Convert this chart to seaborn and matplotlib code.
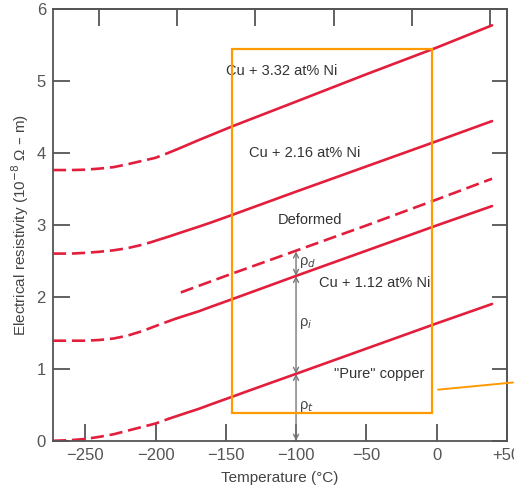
import numpy as np
import pandas as pd
import matplotlib
matplotlib.use("Agg")
import matplotlib.pyplot as plt
from matplotlib.patches import Rectangle
import seaborn as sns

# Resistivity curves (temperature in degC, rho in 1e-8 ohm m)
ni332_dash_t = [-273, -260, -250, -240, -230, -220, -210, -200, -192, -185]
ni332_dash_r = [3.76, 3.76, 3.765, 3.78, 3.80, 3.84, 3.885, 3.93, 3.99, 4.045]
ni332_solid_t = [-185, -170, -160, -145, -100, -50, 0, 39.5]
ni332_solid_r = [4.045, 4.17, 4.25, 4.37, 4.71, 5.09, 5.46, 5.77]

ni216_dash_t = [-273, -260, -250, -240, -230, -220, -210, -204.5]
ni216_dash_r = [2.60, 2.60, 2.61, 2.625, 2.645, 2.675, 2.72, 2.75]
ni216_solid_t = [-204.5, -190, -180, -169, -160, -145, -100, -50, 0, 39.5]
ni216_solid_r = [2.75, 2.84, 2.905, 2.975, 3.035, 3.14, 3.46, 3.81, 4.16, 4.44]

deformed_t = [-182, -150, -100, -50, 0, 39.5]
deformed_r = [2.06, 2.29, 2.64, 2.99, 3.35, 3.64]

ni112_dash_t = [-273, -260, -250, -240, -230, -220, -210, -204.5, -195, -185]
ni112_dash_r = [1.39, 1.39, 1.39, 1.40, 1.42, 1.46, 1.52, 1.56, 1.63, 1.70]
ni112_solid_t = [-185, -169, -160, -145, -100, -50, 0, 39.5]
ni112_solid_r = [1.70, 1.80, 1.865, 1.97, 2.29, 2.64, 2.99, 3.26]

pure_dash_t = [-273, -260, -250, -240, -230, -220, -210, -200, -190]
pure_dash_r = [0.0, 0.01, 0.025, 0.055, 0.09, 0.14, 0.19, 0.24, 0.31]
pure_solid_t = [-190, -180, -169, -160, -145, -133, -100, -50, 0, 39.5]
pure_solid_r = [0.31, 0.375, 0.445, 0.51, 0.615, 0.70, 0.93, 1.28, 1.63, 1.90]

# contributions at -100 degC
arrow_t = -100
rho_t_top = 0.93
rho_i_top = 2.29
rho_d_top = 2.63

curve_labels = ["Cu + 3.32 at% Ni", "Cu + 2.16 at% Ni", "Deformed",
                "Cu + 1.12 at% Ni", "\"Pure\" copper"]
label_t = [-110, -94, -90, -44, -41]
label_r = [5.14, 3.99, 3.07, 2.19, 0.93]

x_ticks = [-250, -200, -150, -100, -50, 0, 50]
x_ticklabels = ["\u2212250", "\u2212200", "\u2212150", "\u2212100", "\u221250", "0", "+50"]
y_ticks = [0, 1, 2, 3, 4, 5, 6]
top_ticks_f = [-400, -300, -200, -100, 0, 100]

# orange highlight overlay
box_t = [-145.4, -3.0]
box_r = [0.39, 5.44]
stub_t = [1.1, 54.4]
stub_r = [0.71, 0.81]

RED = "#e31e3c"
ORANGE = "#ff9a00"
GRAY = "#555555"

sns.set_style("ticks", {"xtick.direction": "in", "ytick.direction": "in"})
plt.rcParams["font.family"] = ["Liberation Sans", "DejaVu Sans"]

fig = plt.figure(figsize=(5.14, 4.86), dpi=100)
ax = fig.add_axes([0.103, 0.093, 0.883, 0.889])


def seg(t, r, dashed):
    df = pd.DataFrame({"T": t, "rho": r})
    sns.lineplot(data=df, x="T", y="rho", ax=ax, color=RED, lw=1.9,
                 estimator=None, sort=False,
                 linestyle=(0, (5, 2.2)) if dashed else "-")


seg(ni332_dash_t, ni332_dash_r, True)
seg(ni332_solid_t, ni332_solid_r, False)
seg(ni216_dash_t, ni216_dash_r, True)
seg(ni216_solid_t, ni216_solid_r, False)
seg(deformed_t, deformed_r, True)
seg(ni112_dash_t, ni112_dash_r, True)
seg(ni112_solid_t, ni112_solid_r, False)
seg(pure_dash_t, pure_dash_r, True)
seg(pure_solid_t, pure_solid_r, False)

# rho_t, rho_i, rho_d arrows
for lo, hi in [(0, rho_t_top), (rho_t_top, rho_i_top), (rho_i_top, rho_d_top)]:
    ax.annotate("", xy=(arrow_t, lo), xytext=(arrow_t, hi),
                arrowprops=dict(arrowstyle="<->", color="#777777", lw=1.0,
                                shrinkA=0, shrinkB=0, mutation_scale=9))
ax.text(arrow_t + 2, 2.47, "\u03c1$_{d}$", fontsize=10.5, color="#444444", va="center")
ax.text(arrow_t + 2, 1.63, "\u03c1$_{i}$", fontsize=10.5, color="#444444", va="center")
ax.text(arrow_t + 2, 0.48, "\u03c1$_{t}$", fontsize=10.5, color="#444444", va="center")

for s, t, r in zip(curve_labels, label_t, label_r):
    ax.text(t, r, s, fontsize=10.5, color="#333333", ha="center", va="center")

ax.add_patch(Rectangle((box_t[0], box_r[0]), box_t[1] - box_t[0], box_r[1] - box_r[0],
                       fill=False, edgecolor=ORANGE, lw=1.6, zorder=5))
ax.plot(stub_t, stub_r, color=ORANGE, lw=1.4, clip_on=False, zorder=5)

ax.set_xlim(-273, 50)
ax.set_ylim(0, 6)
ax.set_xticks(x_ticks)
ax.set_xticklabels(x_ticklabels)
ax.set_yticks(y_ticks)
ax.tick_params(axis="both", direction="in", length=12, width=1.3, color=GRAY,
               labelcolor=GRAY, labelsize=12, pad=5)

# top ticks sit at Fahrenheit hundreds in the original
top = ax.secondary_xaxis("top", functions=(lambda c: c * 9 / 5 + 32,
                                           lambda f: (f - 32) * 5 / 9))
top.set_xticks(top_ticks_f)
top.set_xticklabels([])
top.tick_params(axis="x", direction="in", length=12, width=1.3, color=GRAY)
top.spines["top"].set_color(GRAY)
top.spines["top"].set_linewidth(1.3)

# right ticks mirror the left ones, unlabeled
right = ax.secondary_yaxis("right")
right.set_yticks(y_ticks)
right.set_yticklabels([])
right.tick_params(axis="y", direction="in", length=11, width=1.3, color=GRAY)
right.spines["right"].set_color(GRAY)
right.spines["right"].set_linewidth(1.3)

for sp in ax.spines.values():
    sp.set_visible(True)
    sp.set_color(GRAY)
    sp.set_linewidth(1.3)

ax.set_xlabel("Temperature (\u00b0C)", fontsize=11, color="#444444", labelpad=6)
ax.set_ylabel("Electrical resistivity (10$^{-8}$ \u03a9 \u2013 m)", fontsize=11,
              color="#444444", labelpad=4)

fig.savefig("out.png", dpi=100)
plt.close(fig)
